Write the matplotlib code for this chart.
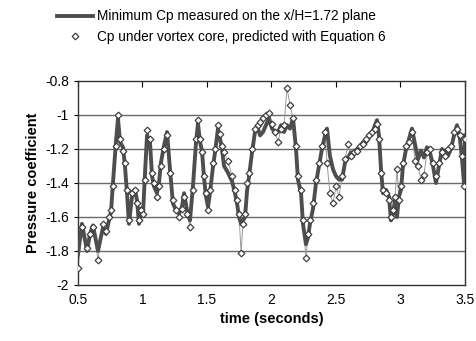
import matplotlib
matplotlib.use("Agg")
import matplotlib.pyplot as plt
import numpy as np

plt.rcParams['font.family'] = ['Liberation Sans', 'DejaVu Sans']

# pixel-read x positions converted to time (s)
px = [78, 82, 87, 90, 93, 98, 103, 106, 109, 111, 113, 116, 118, 120, 123, 125, 127, 129, 132, 135,
      137, 139, 141, 143, 145, 147, 150, 152, 154, 157, 159, 161, 164, 167, 170, 173, 176, 179, 182, 184,
      187, 190, 193, 196, 198, 200, 202, 204, 206, 208, 210, 213, 215, 218, 220, 222, 224, 228, 232, 235,
      237, 239, 241, 243, 245, 247, 249, 252, 255, 258, 260, 263, 266, 269, 272, 275, 278, 281, 284, 287,
      290, 293, 296, 298, 301, 303, 306, 308, 310, 313, 316, 319, 322, 325, 327, 330, 333, 336, 339, 342,
      345, 348, 351, 354, 357, 360, 363, 366, 369, 372, 375, 377, 379, 381, 383, 386, 389, 391, 393, 395,
      397, 399, 401, 403, 406, 409, 412, 415, 418, 421, 424, 427, 430, 433, 436, 439, 442, 445, 448, 451,
      454, 457, 460, 462, 464, 465]
time = [round(0.5 + (p - 78) / 129.0, 3) for p in px]

cp_measured = [-1.82, -1.64, -1.80, -1.70, -1.65, -1.80, -1.66, -1.70, -1.62, -1.57, -1.40, -1.15, -1.02, -1.16, -1.19, -1.30, -1.46, -1.64, -1.48, -1.44,
               -1.50, -1.64, -1.55, -1.58, -1.35, -1.12, -1.16, -1.36, -1.42, -1.46, -1.40, -1.28, -1.18, -1.10, -1.32, -1.52, -1.56, -1.58, -1.54, -1.46,
               -1.56, -1.62, -1.42, -1.16, -1.05, -1.16, -1.21, -1.37, -1.48, -1.54, -1.46, -1.30, -1.22, -1.08, -1.14, -1.20, -1.30, -1.34, -1.39, -1.46,
               -1.52, -1.60, -1.64, -1.62, -1.60, -1.45, -1.36, -1.22, -1.10, -1.08, -1.12, -1.10, -1.06, -1.02, -1.08, -1.10, -1.10, -1.06, -1.10, -1.06,
               -1.08, -1.02, -1.20, -1.38, -1.46, -1.64, -1.76, -1.72, -1.64, -1.55, -1.40, -1.30, -1.20, -1.12, -1.08, -1.24, -1.32, -1.36, -1.38, -1.38,
               -1.28, -1.25, -1.22, -1.23, -1.20, -1.19, -1.16, -1.16, -1.13, -1.11, -1.06, -1.03, -1.12, -1.32, -1.46, -1.44, -1.48, -1.62, -1.58, -1.50,
               -1.60, -1.48, -1.44, -1.30, -1.20, -1.14, -1.08, -1.17, -1.26, -1.21, -1.25, -1.19, -1.22, -1.30, -1.40, -1.30, -1.20, -1.22, -1.24, -1.20,
               -1.12, -1.06, -1.14, -1.26, -1.40, -1.12]

cp_predicted = [-1.90, -1.66, -1.78, -1.70, -1.66, -1.85, -1.64, -1.68, -1.60, -1.56, -1.42, -1.18, -1.00, -1.14, -1.21, -1.28, -1.44, -1.62, -1.46, -1.44,
                -1.52, -1.62, -1.56, -1.58, -1.38, -1.09, -1.14, -1.34, -1.40, -1.48, -1.42, -1.30, -1.20, -1.12, -1.34, -1.50, -1.56, -1.60, -1.55, -1.48,
                -1.58, -1.66, -1.44, -1.14, -1.03, -1.14, -1.22, -1.36, -1.46, -1.56, -1.44, -1.28, -1.20, -1.06, -1.11, -1.18, -1.22, -1.27, -1.36, -1.44,
                -1.50, -1.58, -1.81, -1.64, -1.58, -1.40, -1.34, -1.20, -1.08, -1.06, -1.04, -1.02, -1.00, -0.99, -1.05, -1.10, -1.16, -1.08, -1.06, -0.84,
                -0.94, -1.02, -1.18, -1.36, -1.44, -1.62, -1.84, -1.70, -1.62, -1.52, -1.38, -1.28, -1.18, -1.10, -1.28, -1.46, -1.52, -1.42, -1.48, -1.36,
                -1.26, -1.17, -1.24, -1.22, -1.21, -1.18, -1.17, -1.14, -1.12, -1.10, -1.08, -1.05, -1.14, -1.34, -1.44, -1.46, -1.50, -1.60, -1.56, -1.48,
                -1.32, -1.50, -1.42, -1.28, -1.18, -1.16, -1.10, -1.27, -1.30, -1.38, -1.35, -1.22, -1.20, -1.28, -1.36, -1.28, -1.22, -1.24, -1.20, -1.18,
                -1.10, -1.08, -1.12, -1.24, -1.42, -1.14]

xticks = [0.5, 1, 1.5, 2, 2.5, 3, 3.5]
xticklabels = ['0.5', '1', '1.5', '2', '2.5', '3', '3.5']
yticks = [-2, -1.8, -1.6, -1.4, -1.2, -1, -0.8]
yticklabels = ['-2', '-1.8', '-1.6', '-1.4', '-1.2', '-1', '-0.8']

fig = plt.figure(figsize=(4.77, 3.41), dpi=100)
ax = fig.add_axes([78/477, 56/341, 387/477, 204/341])

for y in yticks[1:-1]:
    ax.axhline(y, color='#6a6a6a', lw=1.0, zorder=1)

l1, = ax.plot(time, cp_measured, color='#4e4e4e', lw=2.8, zorder=3,
              label='Minimum Cp measured on the x/H=1.72 plane')
ax.plot(time, cp_predicted, color='#9a9a9a', lw=0.7, zorder=2)
l2, = ax.plot(time, cp_predicted, ls='none', marker='D', ms=3.4, mfc='white', mec='#404040', mew=0.9,
              zorder=4, label='Cp under vortex core, predicted with Equation 6')

ax.set_xlim(0.5, 3.5)
ax.set_ylim(-2, -0.8)
ax.set_xticks(xticks)
ax.set_xticklabels(xticklabels, fontsize=10)
ax.set_yticks(yticks)
ax.set_yticklabels(yticklabels, fontsize=10)
ax.tick_params(axis='x', top=True, bottom=False, direction='in', length=4, pad=6)
ax.tick_params(axis='y', direction='out', length=3)
for s in ax.spines.values():
    s.set_color('#333333')
    s.set_linewidth(1.0)

ax.set_xlabel('time (seconds)', fontsize=10.5, fontweight='bold', labelpad=3)
ax.set_ylabel('Pressure coefficient', fontsize=10.5, fontweight='bold', labelpad=4)

fig.legend(handles=[l1, l2], loc='upper left', bbox_to_anchor=(52/477, 1 - 4/341),
           frameon=False, fontsize=9.8, handlelength=2.6, handletextpad=0.3,
           labelspacing=0.5, borderaxespad=0)

fig.savefig('out.png', dpi=100)
